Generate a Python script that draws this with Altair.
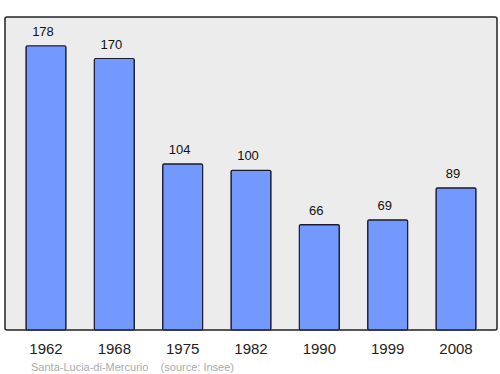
import altair as alt
import pandas as pd

years = ["1962", "1968", "1975", "1982", "1990", "1999", "2008"]
population = [178, 170, 104, 100, 66, 69, 89]

df = pd.DataFrame({"year": years, "pop": population})

FONT = "Liberation Sans"

xenc = alt.X(
    "year:N",
    sort=years,
    scale=alt.Scale(paddingInner=0.4146, paddingOuter=0.307),
    axis=alt.Axis(title=None, labelAngle=0, labelFontSize=15, labelColor="#222222",
                  labelFont=FONT, domain=False, ticks=False, labelPadding=11),
)
yenc = alt.Y("pop:Q", scale=alt.Scale(domain=[0, 196], nice=False), axis=None)

bars = alt.Chart(df).mark_bar(
    color="#7399ff", stroke="#1a1a2e", strokeWidth=1.2, cornerRadius=1.5
).encode(x=xenc, y=yenc)

labels = alt.Chart(df).mark_text(
    dy=-10, dx=-3, baseline="alphabetic", fontSize=13, font=FONT, color="#111111"
).encode(x=xenc, y=yenc, text="pop:Q")

chart = (
    alt.layer(bars, labels)
    .properties(
        width=492,
        height=313,
        autosize=alt.AutoSizeParams(type="none"),
        padding={"left": 5, "top": 17, "right": 3, "bottom": 44},
        background="white",
        title=alt.TitleParams(
            "Santa-Lucia-di-Mercurio\u00a0\u00a0\u00a0\u00a0(source: Insee)",
            orient="bottom", anchor="start", fontSize=11, font=FONT,
            color="#aaaaaa", fontWeight="normal", offset=6, dx=26,
        ),
    )
    .configure_view(fill="#ececec", stroke="#222222", strokeWidth=1.5, cornerRadius=2)
)

chart.save("out.html", embed_options={"renderer": "svg", "actions": False})
